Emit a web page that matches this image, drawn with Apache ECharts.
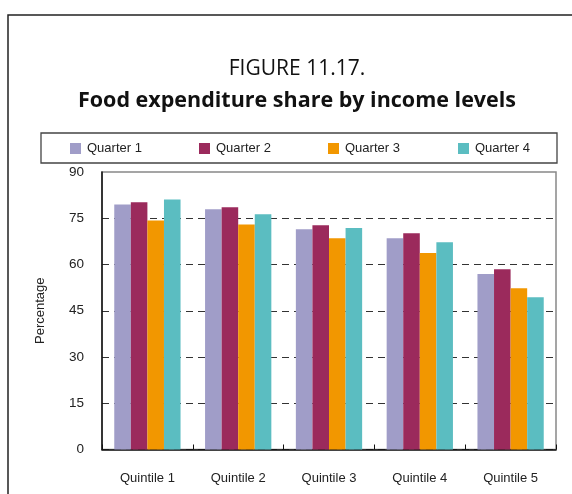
<!DOCTYPE html>
<html>
<head>
<meta charset="utf-8">
<script src="https://cdn.jsdelivr.net/npm/echarts@6/dist/echarts.min.js"></script>
<style>
  html, body { margin: 0; padding: 0; background: #fff; }
  #chart { width: 572px; height: 494px; }
</style>
</head>
<body>
<div id="chart"></div>
<script>
// data
var categories = ["Quintile 1", "Quintile 2", "Quintile 3", "Quintile 4", "Quintile 5"];
var quarter1 = [79.5, 77.9, 71.4, 68.5, 56.9];
var quarter2 = [80.2, 78.6, 72.7, 70.1, 58.5];
var quarter3 = [74.3, 73.0, 68.5, 63.7, 52.3];
var quarter4 = [81.1, 76.3, 71.8, 67.2, 49.4];
var seriesNames = ["Quarter 1", "Quarter 2", "Quarter 3", "Quarter 4"];
var seriesColors = ["#a09dc8", "#9b2a5c", "#f29700", "#5bbdc1"];
var yTicks = { min: 0, max: 90, interval: 15 };

var narrow = "'Liberation Sans Narrow', 'Liberation Sans', Arial, sans-serif";

var chartDom = document.getElementById("chart");
var myChart = echarts.init(chartDom);

var allData = [quarter1, quarter2, quarter3, quarter4];
var legendX = [70, 199, 328, 458];

var option = {
  animation: false,
  // 标题和外框
  graphic: [
    {
      type: "rect",
      shape: { x: 8, y: 15, width: 700, height: 700 },
      style: { fill: "none", stroke: "#222", lineWidth: 1.5 },
      silent: true
    },
    {
      type: "rect",
      shape: { x: 41, y: 133, width: 516, height: 30 },
      style: { fill: "none", stroke: "#444", lineWidth: 1.3 },
      silent: true
    },
    {
      type: "text",
      x: 297, y: 69,
      style: {
        text: "FIGURE 11.17.", fill: "#111", align: "center", verticalAlign: "middle",
        font: "21px 'Open Sans', sans-serif"
      }
    },
    {
      type: "text",
      x: 297, y: 101,
      style: {
        text: "Food expenditure share by income levels", fill: "#111", align: "center", verticalAlign: "middle",
        font: "bold 21.5px 'Open Sans', sans-serif"
      }
    }
  ],
  legend: seriesNames.map(function (n, i) {
    return {
      data: [n],
      left: legendX[i],
      top: 142,
      padding: 0,
      itemWidth: 11,
      itemHeight: 11,
      itemGap: 0,
      icon: "rect",
      textStyle: { fontFamily: narrow, fontSize: 13, color: "#222", padding: [0, 0, 0, 1] }
    };
  }),
  grid: {
    left: 102, right: 16, top: 172, bottom: 44.5,
    show: true, borderColor: "#888", borderWidth: 1.5
  },
  xAxis: {
    type: "category",
    data: categories,
    axisLine: { lineStyle: { color: "#111", width: 1.5 } },
    axisTick: { show: true, inside: true, length: 5, lineStyle: { color: "#111" } },
    axisLabel: { fontFamily: narrow, fontSize: 13, color: "#222", margin: 22 }
  },
  yAxis: {
    type: "value",
    min: yTicks.min, max: yTicks.max, interval: yTicks.interval,
    name: "Percentage",
    nameLocation: "middle",
    nameGap: 55,
    nameTextStyle: { fontFamily: narrow, fontSize: 13, color: "#222" },
    axisLine: { show: true, lineStyle: { color: "#111", width: 1.5 } },
    axisTick: { show: false },
    axisLabel: { fontFamily: narrow, fontSize: 13.5, color: "#222", margin: 18 },
    splitLine: {
      showMaxLine: false,
      lineStyle: { color: "#333", type: [7, 5], width: 1.2 }
    }
  },
  series: seriesNames.map(function (n, i) {
    return {
      name: n,
      type: "bar",
      data: allData[i],
      itemStyle: { color: seriesColors[i] },
      barGap: "0%",
      barCategoryGap: "27%"
    };
  })
};

myChart.setOption(option);

window.addEventListener("resize", function () {
  myChart.resize();
});
</script>
</body>
</html>
